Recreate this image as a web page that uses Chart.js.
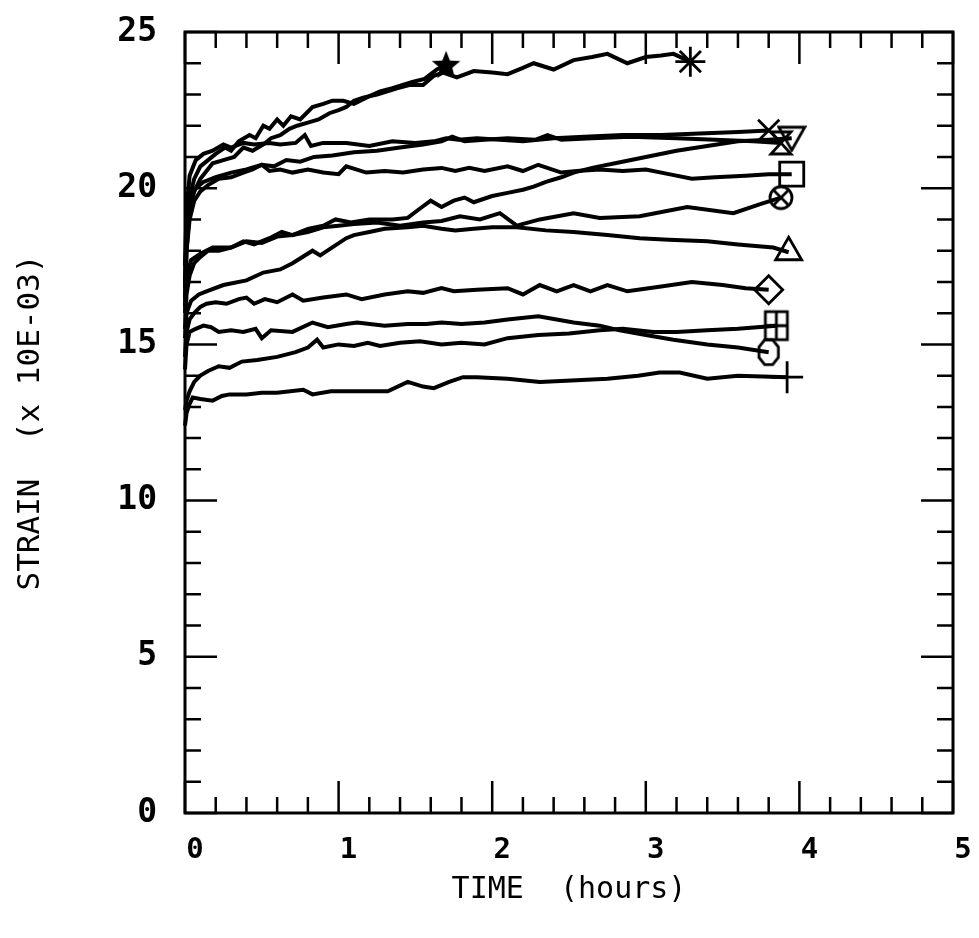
<!DOCTYPE html>
<html><head><meta charset="utf-8">
<script src="https://cdn.jsdelivr.net/npm/chart.js@4.4.1/dist/chart.umd.min.js"></script>
<style>html,body{margin:0;padding:0;background:#fff}canvas{display:block}</style>
</head><body>
<canvas id="c" width="979" height="938"></canvas>
<script>
// ---- data: [time (hours), strain (x 10E-03)] ----
const xTickLabels = ['0', '1', '2', '3', '4', '5'];
const yTickLabels = ['0', '5', '10', '15', '20', '25'];
const xTitle = 'TIME  (hours)';
const yTitle = 'STRAIN  (x 10E-03)';

const curveStar = [[0,16.8],[0.01,18.6],[0.03,19.7],[0.06,20.3],[0.1,20.7],[0.15,20.9],[0.2,21.1],[0.26,21.3],[0.3,21.2],[0.35,21.5],[0.42,21.7],[0.46,21.6],[0.51,22.0],[0.55,21.9],[0.6,22.2],[0.64,22.0],[0.69,22.3],[0.75,22.2],[0.83,22.6],[0.9,22.7],[0.96,22.8],[1.03,22.8],[1.1,22.7],[1.18,22.9],[1.27,23.1],[1.35,23.2],[1.48,23.4],[1.56,23.5],[1.64,23.8],[1.7,23.95]];
const curveAsterisk = [[0,16.2],[0.01,18.0],[0.03,19.3],[0.06,19.9],[0.1,20.3],[0.18,20.8],[0.25,20.9],[0.32,21.0],[0.38,21.3],[0.44,21.2],[0.51,21.4],[0.56,21.6],[0.62,21.7],[0.68,21.9],[0.73,22.0],[0.8,22.1],[0.87,22.2],[0.94,22.4],[1.0,22.5],[1.05,22.6],[1.1,22.8],[1.16,22.9],[1.25,23.0],[1.38,23.2],[1.46,23.3],[1.55,23.3],[1.62,23.6],[1.68,23.7],[1.77,23.55],[1.88,23.75],[2.0,23.7],[2.1,23.65],[2.2,23.85],[2.27,24.0],[2.4,23.8],[2.53,24.1],[2.65,24.2],[2.75,24.3],[2.88,24.0],[3.0,24.2],[3.1,24.25],[3.18,24.3],[3.29,24.05]];
const curveCross = [[0,17.5],[0.01,19.3],[0.03,20.4],[0.07,20.9],[0.12,21.1],[0.18,21.2],[0.25,21.4],[0.3,21.3],[0.38,21.45],[0.45,21.4],[0.55,21.45],[0.62,21.4],[0.72,21.45],[0.78,21.7],[0.82,21.35],[0.9,21.45],[1.05,21.45],[1.2,21.35],[1.35,21.5],[1.5,21.45],[1.62,21.5],[1.7,21.6],[1.78,21.55],[1.9,21.6],[2.05,21.55],[2.2,21.5],[2.4,21.6],[2.6,21.65],[2.85,21.7],[3.1,21.7],[3.35,21.75],[3.6,21.8],[3.8,21.85]];
const curveHourglass = [[0,17.0],[0.01,18.6],[0.03,19.6],[0.07,20.0],[0.12,20.2],[0.2,20.35],[0.3,20.5],[0.4,20.6],[0.5,20.75],[0.58,20.7],[0.66,20.9],[0.75,20.85],[0.84,21.0],[0.96,21.05],[1.1,21.15],[1.25,21.2],[1.4,21.3],[1.55,21.4],[1.67,21.5],[1.74,21.65],[1.82,21.5],[1.95,21.55],[2.1,21.6],[2.28,21.55],[2.36,21.7],[2.45,21.55],[2.65,21.6],[2.9,21.65],[3.2,21.6],[3.45,21.55],[3.7,21.5],[3.88,21.45]];
const curveNabla = [[0,16.0],[0.01,17.2],[0.04,17.7],[0.1,17.9],[0.18,18.1],[0.3,18.1],[0.38,18.3],[0.45,18.2],[0.55,18.4],[0.63,18.6],[0.7,18.5],[0.8,18.7],[0.9,18.8],[0.98,19.0],[1.08,18.9],[1.2,19.0],[1.35,19.0],[1.45,19.05],[1.53,19.35],[1.6,19.6],[1.67,19.4],[1.75,19.6],[1.82,19.7],[1.88,19.55],[2.0,19.75],[2.1,19.85],[2.2,19.95],[2.27,20.05],[2.35,20.2],[2.45,20.35],[2.53,20.5],[2.65,20.65],[2.8,20.8],[3.0,21.0],[3.2,21.2],[3.4,21.35],[3.6,21.5],[3.8,21.55],[3.95,21.6]];
const curveSquare = [[0,16.5],[0.01,18.0],[0.03,19.0],[0.06,19.6],[0.1,19.9],[0.15,20.1],[0.22,20.3],[0.3,20.35],[0.38,20.5],[0.44,20.6],[0.5,20.75],[0.55,20.55],[0.62,20.6],[0.7,20.5],[0.8,20.6],[0.9,20.5],[1.0,20.45],[1.05,20.7],[1.18,20.5],[1.3,20.55],[1.42,20.5],[1.55,20.6],[1.67,20.65],[1.76,20.55],[1.85,20.65],[1.95,20.55],[2.1,20.7],[2.2,20.55],[2.3,20.75],[2.45,20.5],[2.55,20.55],[2.7,20.6],[2.85,20.55],[3.0,20.6],[3.15,20.45],[3.3,20.3],[3.45,20.35],[3.65,20.4],[3.8,20.45],[3.95,20.45]];
const curveOtimes = [[0,15.5],[0.01,16.6],[0.03,17.2],[0.06,17.6],[0.1,17.8],[0.15,18.0],[0.22,18.0],[0.3,18.1],[0.4,18.3],[0.5,18.25],[0.6,18.45],[0.7,18.5],[0.8,18.6],[0.9,18.75],[1.0,18.8],[1.1,18.85],[1.25,18.9],[1.4,18.8],[1.55,18.9],[1.67,18.95],[1.79,19.1],[1.92,19.0],[2.05,19.2],[2.16,18.8],[2.31,19.0],[2.53,19.2],[2.7,19.05],[2.96,19.1],[3.27,19.4],[3.57,19.2],[3.75,19.5],[3.88,19.7]];
const curveTriangle = [[0,15.2],[0.01,16.0],[0.04,16.4],[0.09,16.6],[0.14,16.7],[0.25,16.9],[0.4,17.05],[0.51,17.3],[0.62,17.4],[0.7,17.6],[0.83,18.0],[0.88,17.85],[1.05,18.4],[1.1,18.5],[1.2,18.6],[1.3,18.7],[1.45,18.75],[1.55,18.8],[1.67,18.7],[1.76,18.65],[1.88,18.7],[2.0,18.75],[2.16,18.75],[2.35,18.65],[2.53,18.6],[2.75,18.5],[2.96,18.4],[3.15,18.35],[3.4,18.3],[3.6,18.2],[3.83,18.1],[3.93,17.95]];
const curveDiamond = [[0,14.6],[0.01,15.4],[0.03,15.8],[0.06,16.0],[0.1,16.2],[0.14,16.3],[0.2,16.35],[0.27,16.3],[0.35,16.45],[0.4,16.5],[0.45,16.3],[0.52,16.45],[0.6,16.35],[0.7,16.6],[0.77,16.4],[0.9,16.5],[1.05,16.6],[1.15,16.45],[1.3,16.6],[1.45,16.7],[1.55,16.65],[1.67,16.8],[1.75,16.7],[1.9,16.75],[2.1,16.8],[2.2,16.6],[2.31,16.9],[2.42,16.7],[2.53,16.9],[2.64,16.7],[2.75,16.9],[2.88,16.7],[3.1,16.85],[3.3,17.0],[3.5,16.9],[3.65,16.8],[3.8,16.75]];
const curveOctagon = [[0,14.2],[0.01,15.0],[0.03,15.4],[0.07,15.5],[0.12,15.6],[0.17,15.55],[0.22,15.4],[0.3,15.45],[0.38,15.4],[0.46,15.5],[0.5,15.2],[0.56,15.45],[0.7,15.4],[0.83,15.7],[0.93,15.55],[1.05,15.65],[1.12,15.7],[1.3,15.6],[1.45,15.65],[1.57,15.65],[1.67,15.7],[1.8,15.65],[1.95,15.7],[2.1,15.8],[2.3,15.9],[2.53,15.7],[2.7,15.6],[2.83,15.45],[3.0,15.3],[3.18,15.15],[3.4,15.0],[3.6,14.9],[3.8,14.75]];
const curveBoxplus = [[0,12.9],[0.01,13.2],[0.03,13.5],[0.06,13.8],[0.1,14.0],[0.15,14.15],[0.22,14.3],[0.29,14.25],[0.37,14.45],[0.47,14.5],[0.6,14.6],[0.72,14.75],[0.8,14.9],[0.86,15.15],[0.9,14.9],[1.0,15.0],[1.1,14.95],[1.19,15.05],[1.27,14.95],[1.4,15.05],[1.53,15.1],[1.67,15.0],[1.8,15.05],[1.95,15.0],[2.1,15.2],[2.3,15.3],[2.5,15.35],[2.7,15.45],[2.85,15.5],[3.05,15.4],[3.2,15.4],[3.4,15.45],[3.6,15.5],[3.85,15.6]];
const curvePlus = [[0,12.4],[0.01,12.8],[0.03,13.1],[0.05,13.3],[0.1,13.25],[0.18,13.2],[0.24,13.35],[0.29,13.4],[0.4,13.4],[0.5,13.45],[0.6,13.45],[0.77,13.55],[0.83,13.4],[0.95,13.5],[1.06,13.5],[1.2,13.5],[1.32,13.5],[1.45,13.8],[1.55,13.65],[1.62,13.6],[1.72,13.8],[1.81,13.95],[1.9,13.95],[2.1,13.9],[2.31,13.8],[2.55,13.85],[2.75,13.9],[2.95,14.0],[3.09,14.1],[3.22,14.1],[3.4,13.9],[3.6,14.0],[3.92,13.95]];

// ---- marker glyphs ----
function glyph(w, h, draw) {
  const c = document.createElement('canvas');
  c.width = w; c.height = h;
  const g = c.getContext('2d');
  g.strokeStyle = '#000'; g.fillStyle = '#000'; g.lineWidth = 2.8; g.lineJoin = 'miter';
  draw(g, w, h);
  return c;
}
const starGlyph = glyph(32, 32, (g) => {
  g.beginPath();
  for (let i = 0; i < 10; i++) {
    const r = i % 2 ? 6.5 : 15;
    const a = -Math.PI / 2 + i * Math.PI / 5;
    const px = 16 + r * Math.cos(a), py = 17 + r * Math.sin(a);
    i ? g.lineTo(px, py) : g.moveTo(px, py);
  }
  g.closePath(); g.fill();
});
const hourglassGlyph = glyph(26, 28, (g) => {
  g.beginPath(); g.moveTo(3, 3); g.lineTo(23, 3); g.lineTo(3, 25); g.lineTo(23, 25); g.closePath(); g.stroke();
});
const nablaGlyph = glyph(30, 28, (g) => {
  g.beginPath(); g.moveTo(2, 3); g.lineTo(28, 3); g.lineTo(15, 26); g.closePath(); g.stroke();
});
const otimesGlyph = glyph(28, 30, (g) => {
  g.beginPath(); g.arc(14, 15, 11, 0, Math.PI * 2); g.stroke();
  g.beginPath(); g.moveTo(7, 8); g.lineTo(21, 22); g.moveTo(21, 8); g.lineTo(7, 22); g.stroke();
});
const boxplusGlyph = glyph(28, 34, (g) => {
  g.strokeRect(3, 3, 22, 28);
  g.beginPath(); g.moveTo(14, 3); g.lineTo(14, 31); g.moveTo(3, 17); g.lineTo(25, 17); g.stroke();
});
const octagonGlyph = glyph(26, 32, (g) => {
  g.beginPath();
  for (let i = 0; i < 8; i++) {
    const a = Math.PI / 8 + i * Math.PI / 4;
    const px = 13 + 10.5 * Math.cos(a), py = 16 + 13.5 * Math.sin(a);
    i ? g.lineTo(px, py) : g.moveTo(px, py);
  }
  g.closePath(); g.stroke();
});

const series = [
  { pts: curveStar, style: starGlyph, r: 12 },
  { pts: curveAsterisk, style: 'star', r: 15 },
  { pts: curveCross, style: 'crossRot', r: 15 },
  { pts: curveHourglass, style: hourglassGlyph, r: 12 },
  { pts: curveNabla, style: nablaGlyph, r: 12 },
  { pts: curveSquare, style: 'rect', r: 17 },
  { pts: curveOtimes, style: otimesGlyph, r: 12 },
  { pts: curveTriangle, style: 'triangle', r: 15 },
  { pts: curveDiamond, style: 'rectRot', r: 14 },
  { pts: curveOctagon, style: octagonGlyph, r: 12 },
  { pts: curveBoxplus, style: boxplusGlyph, r: 12 },
  { pts: curvePlus, style: 'cross', r: 16 }
];

const datasets = series.map(s => ({
  data: s.pts.map(p => ({ x: p[0], y: p[1] })),
  borderColor: '#000',
  borderWidth: 4,
  tension: 0,
  fill: false,
  pointStyle: s.style,
  pointBorderColor: '#000',
  pointBackgroundColor: 'rgba(0,0,0,0)',
  pointBorderWidth: 2.8,
  pointRadius: ctx => (ctx.dataIndex === s.pts.length - 1 ? s.r : 0),
  pointHoverRadius: 0,
  clip: false
}));

// frame with inward major/minor ticks on all four sides
const framePlugin = {
  id: 'frame',
  beforeDatasetsDraw(chart) {
    const { ctx, chartArea: a, scales: { x, y } } = chart;
    ctx.save();
    ctx.strokeStyle = '#000';
    ctx.lineWidth = 3;
    ctx.strokeRect(a.left, a.top, a.right - a.left, a.bottom - a.top);
    ctx.lineWidth = 2.5;
    ctx.beginPath();
    for (let i = 0; i <= 25; i++) {
      const px = x.getPixelForValue(i * 0.2);
      const L = i % 5 === 0 ? 32 : 16;
      ctx.moveTo(px, a.bottom); ctx.lineTo(px, a.bottom - L);
      ctx.moveTo(px, a.top); ctx.lineTo(px, a.top + L);
    }
    for (let v = 0; v <= 25; v++) {
      const py = y.getPixelForValue(v);
      const L = v % 5 === 0 ? 32 : 16;
      ctx.moveTo(a.left, py); ctx.lineTo(a.left + L, py);
      ctx.moveTo(a.right, py); ctx.lineTo(a.right - L, py);
    }
    ctx.stroke();
    ctx.restore();
  }
};

new Chart(document.getElementById('c'), {
  type: 'line',
  data: { datasets },
  options: {
    responsive: false,
    animation: false,
    events: [],
    layout: { padding: { left: 0, top: 32, right: 26, bottom: 0 } },
    plugins: { legend: { display: false }, tooltip: { enabled: false } },
    scales: {
      x: {
        type: 'linear', min: 0, max: 5,
        grid: { display: false }, border: { display: false },
        ticks: {
          stepSize: 1, color: '#000', padding: 12, labelOffset: 10, maxRotation: 0,
          font: { family: 'DejaVu Sans Mono', size: 29, weight: 'bold' },
          callback: v => xTickLabels[xTickLabels.indexOf(String(v))] ?? ''
        },
        title: { display: true, text: xTitle, color: '#000', font: { family: 'DejaVu Sans Mono', size: 30 }, padding: { top: 0, bottom: 30 } },
        afterFit: s => { s.height = 125; }
      },
      y: {
        type: 'linear', min: 0, max: 25,
        grid: { display: true, drawOnChartArea: false, drawTicks: true, tickLength: 18, color: 'rgba(0,0,0,0)' },
        border: { display: false },
        ticks: {
          stepSize: 5, color: '#000', padding: 10,
          font: { family: 'DejaVu Sans Mono', size: 33, weight: 'bold' },
          callback: v => yTickLabels[yTickLabels.indexOf(String(v))] ?? ''
        },
        title: { display: true, text: yTitle, color: '#000', font: { family: 'DejaVu Sans Mono', size: 31 }, padding: { top: 12, bottom: 0 } },
        afterFit: s => { s.width = 185; }
      }
    }
  },
  plugins: [framePlugin]
});
</script>
</body></html>
